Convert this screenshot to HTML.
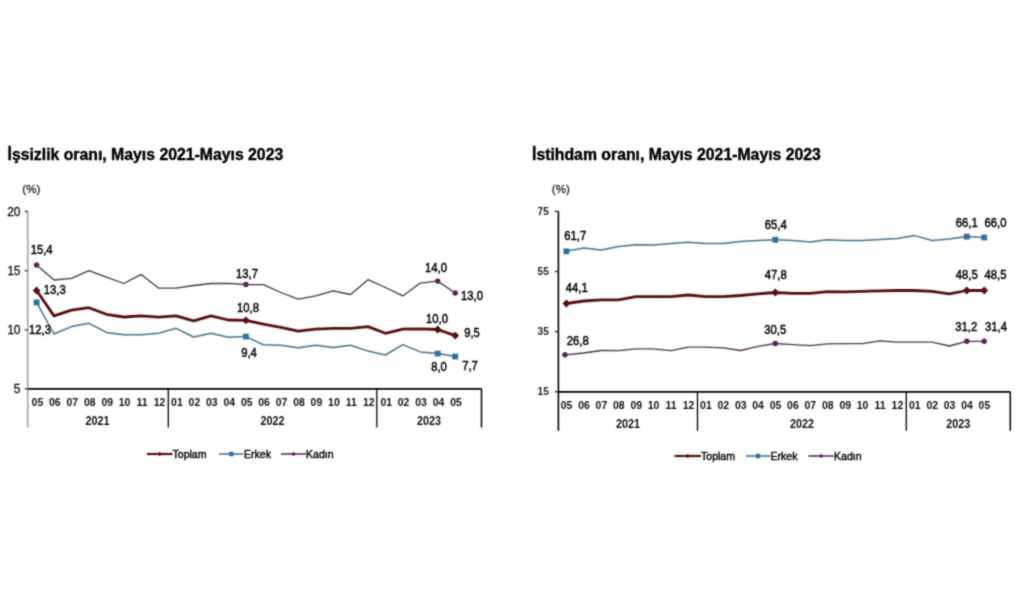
<!DOCTYPE html>
<html><head><meta charset="utf-8"><style>
html,body{margin:0;padding:0;background:#fff;}
body{width:1024px;height:607px;overflow:hidden;}
svg{display:block;font-family:"Liberation Sans",sans-serif;}
</style></head><body>
<svg width="1024" height="607" viewBox="0 0 1024 607">
<defs><filter id="bl" filterUnits="userSpaceOnUse" x="0" y="0" width="1024" height="607"><feConvolveMatrix order="3" kernelMatrix="1 2 1 2 10 2 1 2 1" divisor="22" edgeMode="none" preserveAlpha="false"/></filter></defs>
<g filter="url(#bl)"><text transform="translate(7.5,159.5)" font-size="15.8" text-anchor="start" font-weight="bold" fill="#000" stroke="#000" stroke-width="0.4" >İşsizlik oranı, Mayıs 2021-Mayıs 2023</text><text transform="translate(31.3,193)" font-size="11.5" text-anchor="middle" font-weight="normal" fill="#222" stroke="#222" stroke-width="0.3" >(%)</text><line x1="27.8" y1="211.5" x2="27.8" y2="427.5" stroke="#8a8a8a" stroke-width="1.2"/><line x1="27.8" y1="388.8" x2="481.5" y2="388.8" stroke="#000" stroke-width="1.7"/><line x1="481.5" y1="388.8" x2="481.5" y2="427.5" stroke="#000" stroke-width="1.5"/><line x1="168.3" y1="388.8" x2="168.3" y2="427.5" stroke="#000" stroke-width="1.3"/><line x1="376.8" y1="388.8" x2="376.8" y2="427.5" stroke="#000" stroke-width="1.3"/><line x1="24.8" y1="211.5" x2="27.8" y2="211.5" stroke="#222" stroke-width="1.3"/><text transform="translate(20.5,215.8)" font-size="12" text-anchor="end" font-weight="normal" fill="#111" stroke="#111" stroke-width="0.3" >20</text><line x1="24.8" y1="270.7" x2="27.8" y2="270.7" stroke="#222" stroke-width="1.3"/><text transform="translate(20.5,275.0)" font-size="12" text-anchor="end" font-weight="normal" fill="#111" stroke="#111" stroke-width="0.3" >15</text><line x1="24.8" y1="330" x2="27.8" y2="330" stroke="#222" stroke-width="1.3"/><text transform="translate(20.5,334.3)" font-size="12" text-anchor="end" font-weight="normal" fill="#111" stroke="#111" stroke-width="0.3" >10</text><line x1="24.8" y1="388.8" x2="27.8" y2="388.8" stroke="#222" stroke-width="1.3"/><text transform="translate(20.5,393.1)" font-size="12" text-anchor="end" font-weight="normal" fill="#111" stroke="#111" stroke-width="0.3" >5</text><text transform="translate(37.4,406.1) scale(0.95,1.0)" font-size="11" text-anchor="middle" font-weight="bold" fill="#111" stroke="#111" stroke-width="0" >05</text><text transform="translate(54.8,406.1) scale(0.95,1.0)" font-size="11" text-anchor="middle" font-weight="bold" fill="#111" stroke="#111" stroke-width="0" >06</text><text transform="translate(72.3,406.1) scale(0.95,1.0)" font-size="11" text-anchor="middle" font-weight="bold" fill="#111" stroke="#111" stroke-width="0" >07</text><text transform="translate(89.7,406.1) scale(0.95,1.0)" font-size="11" text-anchor="middle" font-weight="bold" fill="#111" stroke="#111" stroke-width="0" >08</text><text transform="translate(107.2,406.1) scale(0.95,1.0)" font-size="11" text-anchor="middle" font-weight="bold" fill="#111" stroke="#111" stroke-width="0" >09</text><text transform="translate(124.6,406.1) scale(0.95,1.0)" font-size="11" text-anchor="middle" font-weight="bold" fill="#111" stroke="#111" stroke-width="0" >10</text><text transform="translate(142.0,406.1) scale(0.95,1.0)" font-size="11" text-anchor="middle" font-weight="bold" fill="#111" stroke="#111" stroke-width="0" >11</text><text transform="translate(159.5,406.1) scale(0.95,1.0)" font-size="11" text-anchor="middle" font-weight="bold" fill="#111" stroke="#111" stroke-width="0" >12</text><text transform="translate(176.9,406.1) scale(0.95,1.0)" font-size="11" text-anchor="middle" font-weight="bold" fill="#111" stroke="#111" stroke-width="0" >01</text><text transform="translate(194.4,406.1) scale(0.95,1.0)" font-size="11" text-anchor="middle" font-weight="bold" fill="#111" stroke="#111" stroke-width="0" >02</text><text transform="translate(211.8,406.1) scale(0.95,1.0)" font-size="11" text-anchor="middle" font-weight="bold" fill="#111" stroke="#111" stroke-width="0" >03</text><text transform="translate(229.2,406.1) scale(0.95,1.0)" font-size="11" text-anchor="middle" font-weight="bold" fill="#111" stroke="#111" stroke-width="0" >04</text><text transform="translate(246.7,406.1) scale(0.95,1.0)" font-size="11" text-anchor="middle" font-weight="bold" fill="#111" stroke="#111" stroke-width="0" >05</text><text transform="translate(264.1,406.1) scale(0.95,1.0)" font-size="11" text-anchor="middle" font-weight="bold" fill="#111" stroke="#111" stroke-width="0" >06</text><text transform="translate(281.6,406.1) scale(0.95,1.0)" font-size="11" text-anchor="middle" font-weight="bold" fill="#111" stroke="#111" stroke-width="0" >07</text><text transform="translate(299.0,406.1) scale(0.95,1.0)" font-size="11" text-anchor="middle" font-weight="bold" fill="#111" stroke="#111" stroke-width="0" >08</text><text transform="translate(316.4,406.1) scale(0.95,1.0)" font-size="11" text-anchor="middle" font-weight="bold" fill="#111" stroke="#111" stroke-width="0" >09</text><text transform="translate(333.9,406.1) scale(0.95,1.0)" font-size="11" text-anchor="middle" font-weight="bold" fill="#111" stroke="#111" stroke-width="0" >10</text><text transform="translate(351.3,406.1) scale(0.95,1.0)" font-size="11" text-anchor="middle" font-weight="bold" fill="#111" stroke="#111" stroke-width="0" >11</text><text transform="translate(368.8,406.1) scale(0.95,1.0)" font-size="11" text-anchor="middle" font-weight="bold" fill="#111" stroke="#111" stroke-width="0" >12</text><text transform="translate(386.2,406.1) scale(0.95,1.0)" font-size="11" text-anchor="middle" font-weight="bold" fill="#111" stroke="#111" stroke-width="0" >01</text><text transform="translate(403.6,406.1) scale(0.95,1.0)" font-size="11" text-anchor="middle" font-weight="bold" fill="#111" stroke="#111" stroke-width="0" >02</text><text transform="translate(421.1,406.1) scale(0.95,1.0)" font-size="11" text-anchor="middle" font-weight="bold" fill="#111" stroke="#111" stroke-width="0" >03</text><text transform="translate(438.5,406.1) scale(0.95,1.0)" font-size="11" text-anchor="middle" font-weight="bold" fill="#111" stroke="#111" stroke-width="0" >04</text><text transform="translate(456.0,406.1) scale(0.95,1.0)" font-size="11" text-anchor="middle" font-weight="bold" fill="#111" stroke="#111" stroke-width="0" >05</text><text transform="translate(97.5,425.3) scale(0.9,1.0)" font-size="12" text-anchor="middle" font-weight="bold" fill="#111" stroke="#111" stroke-width="0" >2021</text><text transform="translate(272.5,425.3) scale(0.9,1.0)" font-size="12" text-anchor="middle" font-weight="bold" fill="#111" stroke="#111" stroke-width="0" >2022</text><text transform="translate(429,425.3) scale(0.9,1.0)" font-size="12" text-anchor="middle" font-weight="bold" fill="#111" stroke="#111" stroke-width="0" >2023</text><polyline points="36.6,265.0 54.0,280.0 71.5,278.3 88.9,270.6 106.4,277.2 123.8,283.5 141.2,274.4 158.7,288.2 176.1,288.2 193.6,285.5 211.0,283.5 228.4,283.3 245.9,284.5 263.3,284.6 280.8,292.5 298.2,299.1 315.6,295.8 333.1,290.9 350.5,294.5 368.0,279.7 385.4,287.5 402.8,295.9 420.3,283.1 437.7,281.1 455.2,293.0" fill="none" stroke="#4e304e" stroke-width="1.3" stroke-linejoin="round"/><circle cx="36.6" cy="265.0" r="2.7" fill="#5a225a"/><circle cx="245.9" cy="284.5" r="2.7" fill="#5a225a"/><circle cx="437.7" cy="281.1" r="2.7" fill="#5a225a"/><circle cx="455.2" cy="293.0" r="2.7" fill="#5a225a"/><polyline points="36.6,302.4 54.0,334.0 71.5,326.6 88.9,323.3 106.4,332.4 123.8,334.8 141.2,334.8 158.7,333.2 176.1,328.3 193.6,337.0 211.0,333.2 228.4,337.3 245.9,336.6 263.3,344.7 280.8,345.2 298.2,347.8 315.6,345.3 333.1,347.4 350.5,345.3 368.0,351.1 385.4,355.0 402.8,344.6 420.3,351.9 437.7,353.6 455.2,356.5" fill="none" stroke="#46728e" stroke-width="1.5" stroke-linejoin="round"/><rect x="33.7" y="299.5" width="5.8" height="5.8" fill="#2f6fa5"/><rect x="243.0" y="333.7" width="5.8" height="5.8" fill="#2f6fa5"/><rect x="434.8" y="350.7" width="5.8" height="5.8" fill="#2f6fa5"/><rect x="452.3" y="353.6" width="5.8" height="5.8" fill="#2f6fa5"/><polyline points="36.6,290.5 54.0,315.9 71.5,310.1 88.9,307.7 106.4,314.3 123.8,317.0 141.2,315.9 158.7,317.2 176.1,315.9 193.6,320.8 211.0,315.9 228.4,320.0 245.9,320.3 263.3,324.1 280.8,327.4 298.2,331.2 315.6,329.1 333.1,328.3 350.5,328.3 368.0,326.6 385.4,333.3 402.8,329.2 420.3,328.9 437.7,329.5 455.2,335.6" fill="none" stroke="#581010" stroke-width="2.8" stroke-linejoin="round"/><path d="M36.6 286.6L40.5 290.5L36.6 294.4L32.7 290.5Z" fill="#581010"/><path d="M245.9 316.4L249.8 320.3L245.9 324.2L242.0 320.3Z" fill="#581010"/><path d="M437.7 325.6L441.6 329.5L437.7 333.4L433.8 329.5Z" fill="#581010"/><path d="M455.2 331.7L459.1 335.6L455.2 339.5L451.3 335.6Z" fill="#581010"/><text transform="translate(41.6,253.5) scale(0.94,1.0)" font-size="12" text-anchor="middle" font-weight="normal" fill="#000" stroke="#000" stroke-width="0.45" >15,4</text><text transform="translate(54.8,294) scale(0.94,1.0)" font-size="12" text-anchor="middle" font-weight="normal" fill="#000" stroke="#000" stroke-width="0.45" >13,3</text><text transform="translate(40,333.5) scale(0.94,1.0)" font-size="12" text-anchor="middle" font-weight="normal" fill="#000" stroke="#000" stroke-width="0.45" >12,3</text><text transform="translate(247,277.5) scale(0.94,1.0)" font-size="12" text-anchor="middle" font-weight="normal" fill="#000" stroke="#000" stroke-width="0.45" >13,7</text><text transform="translate(248,312) scale(0.94,1.0)" font-size="12" text-anchor="middle" font-weight="normal" fill="#000" stroke="#000" stroke-width="0.45" >10,8</text><text transform="translate(249,356.8) scale(0.94,1.0)" font-size="12" text-anchor="middle" font-weight="normal" fill="#000" stroke="#000" stroke-width="0.45" >9,4</text><text transform="translate(436,271.8) scale(0.94,1.0)" font-size="12" text-anchor="middle" font-weight="normal" fill="#000" stroke="#000" stroke-width="0.45" >14,0</text><text transform="translate(472,299.8) scale(0.94,1.0)" font-size="12" text-anchor="middle" font-weight="normal" fill="#000" stroke="#000" stroke-width="0.45" >13,0</text><text transform="translate(437,322.5) scale(0.94,1.0)" font-size="12" text-anchor="middle" font-weight="normal" fill="#000" stroke="#000" stroke-width="0.45" >10,0</text><text transform="translate(472,337.3) scale(0.94,1.0)" font-size="12" text-anchor="middle" font-weight="normal" fill="#000" stroke="#000" stroke-width="0.45" >9,5</text><text transform="translate(439,371) scale(0.94,1.0)" font-size="12" text-anchor="middle" font-weight="normal" fill="#000" stroke="#000" stroke-width="0.45" >8,0</text><text transform="translate(470,370.3) scale(0.94,1.0)" font-size="12" text-anchor="middle" font-weight="normal" fill="#000" stroke="#000" stroke-width="0.45" >7,7</text><line x1="147" y1="454" x2="172.5" y2="454" stroke="#581010" stroke-width="2.2"/><path d="M159.8 451.8L161.9 454.0L159.8 456.2L157.6 454.0Z" fill="#581010"/><text transform="translate(172.5,457.8) scale(0.96,1.0)" font-size="11" text-anchor="start" font-weight="normal" fill="#000" stroke="#000" stroke-width="0.4" >Toplam</text><line x1="219" y1="454" x2="243.5" y2="454" stroke="#2f6fa5" stroke-width="1.5"/><rect x="229.1" y="451.8" width="4.4" height="4.4" fill="#2f6fa5"/><text transform="translate(244,457.8) scale(0.96,1.0)" font-size="11" text-anchor="start" font-weight="normal" fill="#000" stroke="#000" stroke-width="0.4" >Erkek</text><line x1="281" y1="454" x2="306" y2="454" stroke="#5a225a" stroke-width="1.5"/><circle cx="293.5" cy="454.0" r="1.8" fill="#5a225a"/><text transform="translate(306,457.8) scale(0.96,1.0)" font-size="11" text-anchor="start" font-weight="normal" fill="#000" stroke="#000" stroke-width="0.4" >Kadın</text><text transform="translate(532,159.5)" font-size="15.8" text-anchor="start" font-weight="bold" fill="#000" stroke="#000" stroke-width="0.4" >İstihdam oranı, Mayıs 2021-Mayıs 2023</text><text transform="translate(560.8,192.5)" font-size="11.5" text-anchor="middle" font-weight="normal" fill="#222" stroke="#222" stroke-width="0.3" >(%)</text><line x1="558.4" y1="211.4" x2="558.4" y2="430.8" stroke="#000" stroke-width="1.6"/><line x1="558.4" y1="391.8" x2="1010.3" y2="391.8" stroke="#000" stroke-width="1.7"/><line x1="1010.3" y1="391.8" x2="1010.3" y2="430.8" stroke="#000" stroke-width="1.5"/><line x1="697.5" y1="391.8" x2="697.5" y2="430.8" stroke="#000" stroke-width="1.3"/><line x1="906.3" y1="391.8" x2="906.3" y2="430.8" stroke="#000" stroke-width="1.3"/><line x1="554.9" y1="211.4" x2="558.4" y2="211.4" stroke="#222" stroke-width="1.3"/><text transform="translate(548.8,214.6) scale(0.92,1.0)" font-size="11" text-anchor="end" font-weight="bold" fill="#222" stroke="#222" stroke-width="0" >75</text><line x1="554.9" y1="271.5" x2="558.4" y2="271.5" stroke="#222" stroke-width="1.3"/><text transform="translate(548.8,274.7) scale(0.92,1.0)" font-size="11" text-anchor="end" font-weight="bold" fill="#222" stroke="#222" stroke-width="0" >55</text><line x1="554.9" y1="331.6" x2="558.4" y2="331.6" stroke="#222" stroke-width="1.3"/><text transform="translate(548.8,334.8) scale(0.92,1.0)" font-size="11" text-anchor="end" font-weight="bold" fill="#222" stroke="#222" stroke-width="0" >35</text><line x1="554.9" y1="391.8" x2="558.4" y2="391.8" stroke="#222" stroke-width="1.3"/><text transform="translate(548.8,395.0) scale(0.92,1.0)" font-size="11" text-anchor="end" font-weight="bold" fill="#222" stroke="#222" stroke-width="0" >15</text><text transform="translate(566.6,409) scale(0.95,1.0)" font-size="11" text-anchor="middle" font-weight="bold" fill="#111" stroke="#111" stroke-width="0" >05</text><text transform="translate(584.0,409) scale(0.95,1.0)" font-size="11" text-anchor="middle" font-weight="bold" fill="#111" stroke="#111" stroke-width="0" >06</text><text transform="translate(601.4,409) scale(0.95,1.0)" font-size="11" text-anchor="middle" font-weight="bold" fill="#111" stroke="#111" stroke-width="0" >07</text><text transform="translate(618.8,409) scale(0.95,1.0)" font-size="11" text-anchor="middle" font-weight="bold" fill="#111" stroke="#111" stroke-width="0" >08</text><text transform="translate(636.2,409) scale(0.95,1.0)" font-size="11" text-anchor="middle" font-weight="bold" fill="#111" stroke="#111" stroke-width="0" >09</text><text transform="translate(653.6,409) scale(0.95,1.0)" font-size="11" text-anchor="middle" font-weight="bold" fill="#111" stroke="#111" stroke-width="0" >10</text><text transform="translate(671.1,409) scale(0.95,1.0)" font-size="11" text-anchor="middle" font-weight="bold" fill="#111" stroke="#111" stroke-width="0" >11</text><text transform="translate(688.5,409) scale(0.95,1.0)" font-size="11" text-anchor="middle" font-weight="bold" fill="#111" stroke="#111" stroke-width="0" >12</text><text transform="translate(705.9,409) scale(0.95,1.0)" font-size="11" text-anchor="middle" font-weight="bold" fill="#111" stroke="#111" stroke-width="0" >01</text><text transform="translate(723.3,409) scale(0.95,1.0)" font-size="11" text-anchor="middle" font-weight="bold" fill="#111" stroke="#111" stroke-width="0" >02</text><text transform="translate(740.7,409) scale(0.95,1.0)" font-size="11" text-anchor="middle" font-weight="bold" fill="#111" stroke="#111" stroke-width="0" >03</text><text transform="translate(758.1,409) scale(0.95,1.0)" font-size="11" text-anchor="middle" font-weight="bold" fill="#111" stroke="#111" stroke-width="0" >04</text><text transform="translate(775.5,409) scale(0.95,1.0)" font-size="11" text-anchor="middle" font-weight="bold" fill="#111" stroke="#111" stroke-width="0" >05</text><text transform="translate(792.9,409) scale(0.95,1.0)" font-size="11" text-anchor="middle" font-weight="bold" fill="#111" stroke="#111" stroke-width="0" >06</text><text transform="translate(810.3,409) scale(0.95,1.0)" font-size="11" text-anchor="middle" font-weight="bold" fill="#111" stroke="#111" stroke-width="0" >07</text><text transform="translate(827.8,409) scale(0.95,1.0)" font-size="11" text-anchor="middle" font-weight="bold" fill="#111" stroke="#111" stroke-width="0" >08</text><text transform="translate(845.2,409) scale(0.95,1.0)" font-size="11" text-anchor="middle" font-weight="bold" fill="#111" stroke="#111" stroke-width="0" >09</text><text transform="translate(862.6,409) scale(0.95,1.0)" font-size="11" text-anchor="middle" font-weight="bold" fill="#111" stroke="#111" stroke-width="0" >10</text><text transform="translate(880.0,409) scale(0.95,1.0)" font-size="11" text-anchor="middle" font-weight="bold" fill="#111" stroke="#111" stroke-width="0" >11</text><text transform="translate(897.4,409) scale(0.95,1.0)" font-size="11" text-anchor="middle" font-weight="bold" fill="#111" stroke="#111" stroke-width="0" >12</text><text transform="translate(914.8,409) scale(0.95,1.0)" font-size="11" text-anchor="middle" font-weight="bold" fill="#111" stroke="#111" stroke-width="0" >01</text><text transform="translate(932.2,409) scale(0.95,1.0)" font-size="11" text-anchor="middle" font-weight="bold" fill="#111" stroke="#111" stroke-width="0" >02</text><text transform="translate(949.6,409) scale(0.95,1.0)" font-size="11" text-anchor="middle" font-weight="bold" fill="#111" stroke="#111" stroke-width="0" >03</text><text transform="translate(967.0,409) scale(0.95,1.0)" font-size="11" text-anchor="middle" font-weight="bold" fill="#111" stroke="#111" stroke-width="0" >04</text><text transform="translate(984.4,409) scale(0.95,1.0)" font-size="11" text-anchor="middle" font-weight="bold" fill="#111" stroke="#111" stroke-width="0" >05</text><text transform="translate(628,427.8) scale(0.9,1.0)" font-size="12" text-anchor="middle" font-weight="bold" fill="#111" stroke="#111" stroke-width="0" >2021</text><text transform="translate(801.9,427.8) scale(0.9,1.0)" font-size="12" text-anchor="middle" font-weight="bold" fill="#111" stroke="#111" stroke-width="0" >2022</text><text transform="translate(958.2,427.8) scale(0.9,1.0)" font-size="12" text-anchor="middle" font-weight="bold" fill="#111" stroke="#111" stroke-width="0" >2023</text><polyline points="565.0,354.8 583.8,353.0 601.2,350.5 618.6,350.7 636.0,348.8 653.4,348.8 670.9,350.7 688.3,347.1 705.7,347.1 723.1,347.8 740.5,350.5 757.9,346.4 775.3,343.5 792.7,344.6 810.1,345.6 827.5,343.9 845.0,343.6 862.4,343.6 879.8,340.8 897.2,342.2 914.6,342.2 932.0,342.2 949.4,346.0 966.8,341.3 984.2,341.3" fill="none" stroke="#4e304e" stroke-width="1.3" stroke-linejoin="round"/><circle cx="565.0" cy="354.8" r="2.7" fill="#5a225a"/><circle cx="775.3" cy="343.5" r="2.7" fill="#5a225a"/><circle cx="966.8" cy="341.3" r="2.7" fill="#5a225a"/><circle cx="984.2" cy="341.3" r="2.7" fill="#5a225a"/><polyline points="566.4,251.3 583.8,248.0 601.2,250.0 618.6,246.4 636.0,244.7 653.4,245.0 670.9,243.4 688.3,242.2 705.7,243.4 723.1,243.4 740.5,241.4 757.9,240.6 775.3,239.8 792.7,240.6 810.1,241.9 827.5,239.8 845.0,240.5 862.4,240.5 879.8,239.5 897.2,238.5 914.6,235.6 932.0,240.5 949.4,239.1 966.8,236.6 984.2,237.5" fill="none" stroke="#46728e" stroke-width="1.5" stroke-linejoin="round"/><rect x="563.5" y="248.4" width="5.8" height="5.8" fill="#2f6fa5"/><rect x="772.4" y="236.9" width="5.8" height="5.8" fill="#2f6fa5"/><rect x="963.9" y="233.7" width="5.8" height="5.8" fill="#2f6fa5"/><rect x="981.3" y="234.6" width="5.8" height="5.8" fill="#2f6fa5"/><polyline points="566.4,303.5 583.8,301.0 601.2,299.9 618.6,299.9 636.0,296.6 653.4,296.6 670.9,296.6 688.3,295.0 705.7,296.6 723.1,296.6 740.5,295.5 757.9,293.8 775.3,292.5 792.7,293.3 810.1,293.3 827.5,291.7 845.0,291.9 862.4,291.3 879.8,290.9 897.2,290.5 914.6,290.5 932.0,291.3 949.4,293.9 966.8,290.5 984.2,290.5" fill="none" stroke="#581010" stroke-width="2.8" stroke-linejoin="round"/><path d="M566.4 299.6L570.3 303.5L566.4 307.4L562.5 303.5Z" fill="#581010"/><path d="M775.3 288.6L779.2 292.5L775.3 296.4L771.4 292.5Z" fill="#581010"/><path d="M966.8 286.6L970.7 290.5L966.8 294.4L962.9 290.5Z" fill="#581010"/><path d="M984.2 286.6L988.1 290.5L984.2 294.4L980.3 290.5Z" fill="#581010"/><text transform="translate(575.3,239.8) scale(0.94,1.0)" font-size="12" text-anchor="middle" font-weight="normal" fill="#000" stroke="#000" stroke-width="0.45" >61,7</text><text transform="translate(576.8,291.6) scale(0.94,1.0)" font-size="12" text-anchor="middle" font-weight="normal" fill="#000" stroke="#000" stroke-width="0.45" >44,1</text><text transform="translate(577.7,344.6) scale(0.94,1.0)" font-size="12" text-anchor="middle" font-weight="normal" fill="#000" stroke="#000" stroke-width="0.45" >26,8</text><text transform="translate(775.8,229.2) scale(0.94,1.0)" font-size="12" text-anchor="middle" font-weight="normal" fill="#000" stroke="#000" stroke-width="0.45" >65,4</text><text transform="translate(775.8,279.3) scale(0.94,1.0)" font-size="12" text-anchor="middle" font-weight="normal" fill="#000" stroke="#000" stroke-width="0.45" >47,8</text><text transform="translate(775.3,333.6) scale(0.94,1.0)" font-size="12" text-anchor="middle" font-weight="normal" fill="#000" stroke="#000" stroke-width="0.45" >30,5</text><text transform="translate(966.8,226.8) scale(0.94,1.0)" font-size="12" text-anchor="middle" font-weight="normal" fill="#000" stroke="#000" stroke-width="0.45" >66,1</text><text transform="translate(995.5,226.8) scale(0.94,1.0)" font-size="12" text-anchor="middle" font-weight="normal" fill="#000" stroke="#000" stroke-width="0.45" >66,0</text><text transform="translate(966.8,279.2) scale(0.94,1.0)" font-size="12" text-anchor="middle" font-weight="normal" fill="#000" stroke="#000" stroke-width="0.45" >48,5</text><text transform="translate(995.5,279.2) scale(0.94,1.0)" font-size="12" text-anchor="middle" font-weight="normal" fill="#000" stroke="#000" stroke-width="0.45" >48,5</text><text transform="translate(966.2,331.3) scale(0.94,1.0)" font-size="12" text-anchor="middle" font-weight="normal" fill="#000" stroke="#000" stroke-width="0.45" >31,2</text><text transform="translate(996,331.3) scale(0.94,1.0)" font-size="12" text-anchor="middle" font-weight="normal" fill="#000" stroke="#000" stroke-width="0.45" >31,4</text><line x1="674.6" y1="456" x2="701" y2="456" stroke="#581010" stroke-width="2.2"/><path d="M687.8 453.8L690.0 456.0L687.8 458.2L685.6 456.0Z" fill="#581010"/><text transform="translate(701,459.8) scale(0.96,1.0)" font-size="11" text-anchor="start" font-weight="normal" fill="#000" stroke="#000" stroke-width="0.4" >Toplam</text><line x1="746" y1="456" x2="770.3" y2="456" stroke="#2f6fa5" stroke-width="1.5"/><rect x="755.9" y="453.8" width="4.4" height="4.4" fill="#2f6fa5"/><text transform="translate(770.5,459.8) scale(0.96,1.0)" font-size="11" text-anchor="start" font-weight="normal" fill="#000" stroke="#000" stroke-width="0.4" >Erkek</text><line x1="808.4" y1="456" x2="833.8" y2="456" stroke="#5a225a" stroke-width="1.5"/><circle cx="821.1" cy="456.0" r="1.8" fill="#5a225a"/><text transform="translate(834,459.8) scale(0.96,1.0)" font-size="11" text-anchor="start" font-weight="normal" fill="#000" stroke="#000" stroke-width="0.4" >Kadın</text></g>
</svg>
</body></html>
